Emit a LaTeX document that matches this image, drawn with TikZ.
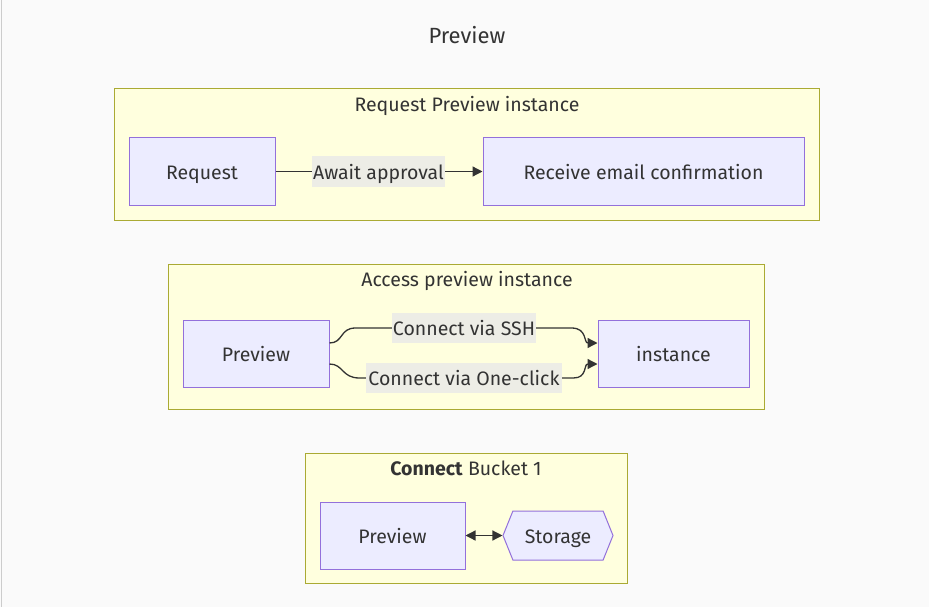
\documentclass[tikz,border=0pt]{standalone}
\usepackage{fontspec}
\setmainfont{Fira Sans}
\usetikzlibrary{arrows.meta,shapes.symbols}
\definecolor{bgc}{HTML}{FAFAFA}
\definecolor{bordc}{HTML}{CCCCCC}
\definecolor{clfill}{HTML}{FFFFDE}
\definecolor{cldraw}{HTML}{AAAA33}
\definecolor{ndfill}{HTML}{ECECFF}
\definecolor{nddraw}{HTML}{9370DB}
\definecolor{txt}{HTML}{333333}
\definecolor{lblbg}{HTML}{EDEDE6}
\tikzset{
  txtf/.style={font=\fontsize{19.5}{23}\selectfont, text=txt, text height=15pt, text depth=0pt},
  cluster/.style={draw=cldraw, fill=clfill, line width=1pt, inner sep=0pt},
  box/.style={draw=nddraw, fill=ndfill, line width=1pt, inner sep=0pt, minimum height=67pt, txtf},
  clabel/.style={txtf, inner sep=0pt},
  elabel/.style={fill=lblbg, txtf, inner xsep=0pt, inner ysep=0pt, minimum height=30pt},
  conn/.style={draw=txt, line width=1.3pt},
  tip/.style={-{Triangle[length=10pt,width=10pt]}},
}
\begin{document}
\begin{tikzpicture}[x=1pt,y=-1pt]
\useasboundingbox (0,0) rectangle (929,607);
\fill[bgc] (0,0) rectangle (929,607);
\draw[bordc, line width=1pt] (1.5,0) -- (1.5,607);
\node[font=\fontsize{22}{26}\selectfont, text=txt, inner sep=0pt] (title) at (467,35) {Preview};

% cluster 1
\node[cluster, minimum width=705pt, minimum height=131pt] (c1) at (466.5,154.5) {};
\node[clabel] (c1l) at (467,104) {Request Preview instance};
\node[box, minimum width=146pt] (req) at (202,171.5) {Request};
\node[box, minimum width=321pt] (rec) at (643.5,171.5) {Receive email confirmation};
\node[elabel, minimum width=133pt] (await) at (378.5,171.5) {Await approval};
\draw[conn] (req.east) -- (await.west);
\draw[conn, tip] (await.east) -- (rec.west);

% cluster 2
\node[cluster, minimum width=596pt, minimum height=145pt] (c2) at (466,336.5) {};
\node[clabel] (c2l) at (467,279) {Access preview instance};
\node[box, minimum width=146pt] (pv) at (256,353.5) {Preview};
\node[box, minimum width=151pt] (inst) at (673.5,353.5) {instance};
\node[elabel, minimum width=144pt] (ssh) at (464,328) {Connect via SSH};
\node[elabel, minimum width=196pt] (oc) at (464,378) {Connect via One-click};
\coordinate (s1) at ([yshift=10.5pt]pv.east);
\coordinate (s2) at ([yshift=10.5pt]inst.west);
\coordinate (o1) at ([yshift=-10.5pt]pv.east);
\coordinate (o2) at ([yshift=-10.5pt]inst.west);
\draw[conn] (s1) .. controls ([xshift=14pt]s1) and ([xshift=10pt,yshift=15pt]s1) .. ([xshift=26pt,yshift=15pt]s1) -- (ssh.west);
\draw[conn, tip] (ssh.east) -- ([xshift=-26pt,yshift=15pt]s2) .. controls ([xshift=-10pt,yshift=15pt]s2) and ([xshift=-14pt]s2) .. (s2);
\draw[conn] (o1) .. controls ([xshift=14pt]o1) and ([xshift=12pt,yshift=-14pt]o1) .. ([xshift=30pt,yshift=-14pt]o1) -- (oc.west);
\draw[conn, tip] (oc.east) -- ([xshift=-24pt,yshift=-14pt]o2) .. controls ([xshift=-10pt,yshift=-14pt]o2) and ([xshift=-14pt]o2) .. (o2);

% cluster 3
\node[cluster, minimum width=322pt, minimum height=130pt] (c3) at (466,518) {};
\node[clabel] (c3l) at (466,468) {\textbf{Connect} Bucket 1};
\node[box, minimum width=145pt] (pv3) at (392.5,535.5) {Preview};
\node[signal, signal to=east and west, signal pointer angle=136, draw=nddraw, fill=ndfill, line width=1pt, inner sep=0pt, minimum width=110pt, minimum height=49pt, txtf] (sto) at (558,535.5) {Storage};
\draw[conn, {Triangle[length=10pt,width=10pt]}-{Triangle[length=10pt,width=10pt]}] (pv3.east) -- (sto.west);
\end{tikzpicture}
\end{document}
